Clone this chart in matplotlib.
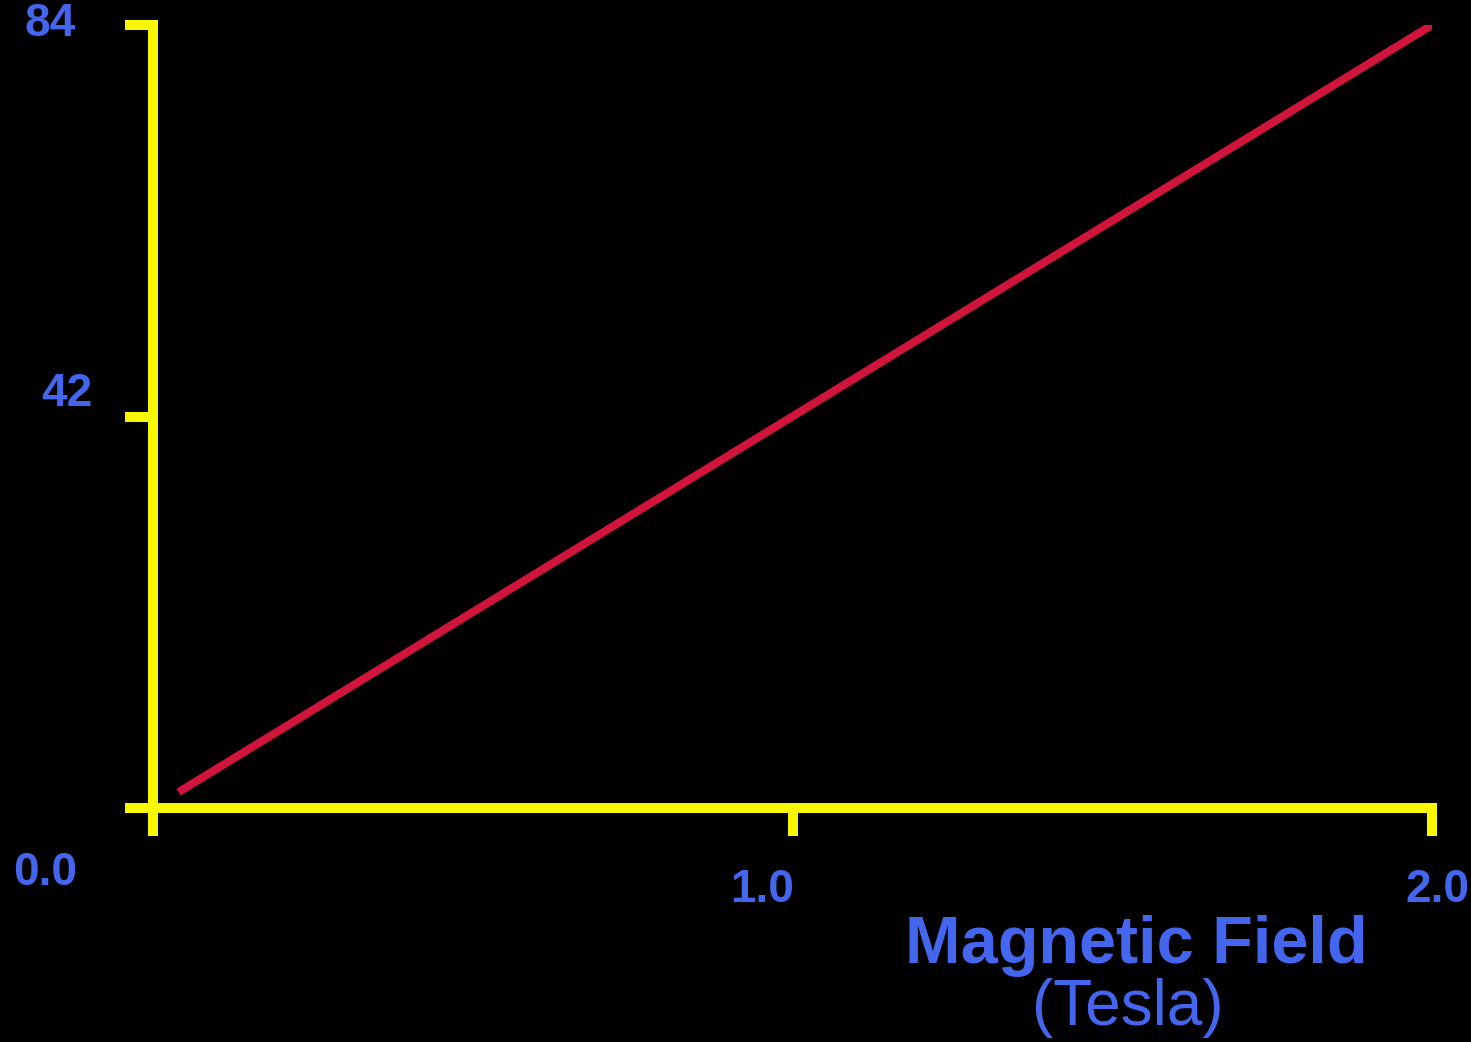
import matplotlib
matplotlib.use("Agg")
import matplotlib.pyplot as plt

plt.rcParams['font.family'] = ['Liberation Sans', 'DejaVu Sans']

# --- data ---
field = [0.04, 2.0]          # Tesla
freq = [1.7, 84.0]           # MHz
x_ticks = [0.0, 1.0, 2.0]
y_ticks = [0, 42, 84]
x_labels = ['0.0', '1.0', '2.0']
y_labels = ['', '42', '84']

BLUE = '#4466EE'
YELLOW = '#F8F800'
RED = '#D0143C'

fig = plt.figure(figsize=(14.71, 10.42), dpi=100, facecolor='black')
ax = fig.add_axes([153 / 1471, 1 - 808 / 1042, (1432 - 153) / 1471, (808 - 25) / 1042])
ax.set_facecolor('black')

ax.plot(field, freq, color=RED, lw=5.8, solid_capstyle='butt', zorder=3)

ax.set_xlim(0, 2)
ax.set_ylim(0, 84)
for side in ['top', 'right']:
    ax.spines[side].set_visible(False)
for side in ['left', 'bottom']:
    ax.spines[side].set_color(YELLOW)
    ax.spines[side].set_linewidth(7.2)
    ax.spines[side].set_capstyle('projecting')

ax.set_xticks(x_ticks)
ax.set_yticks(y_ticks)
ax.tick_params(axis='both', direction='out', length=20, width=7.2,
               color=YELLOW, labelbottom=False, labelleft=False)

# tick labels placed by hand, offset from the tick positions (pixels)
lab = dict(color=BLUE, fontsize=33, fontweight='bold', ha='center', va='center',
           textcoords='offset pixels')
ax.annotate(y_labels[2], (0, y_ticks[2]), xytext=(-103, 1), **lab)
ax.annotate(y_labels[1], (0, y_ticks[1]), xytext=(-86, 23), **lab)
ax.annotate(x_labels[0], (x_ticks[0], 0), xytext=(-108, -65), **lab)
ax.annotate(x_labels[1], (x_ticks[1], 0), xytext=(-30, -82), **lab)
ax.annotate(x_labels[2], (x_ticks[2], 0), xytext=(5, -82), **lab,
            annotation_clip=False)

fig.text(1136 / 1471, 1 - 946 / 1042, 'Magnetic Field', color=BLUE,
         fontsize=48, fontweight='bold', ha='center', va='center')
fig.text(1128 / 1471, 1 - 1008 / 1042, '(Tesla)', color=BLUE,
         fontsize=46, ha='center', va='center')

fig.savefig('out.png', dpi=100, facecolor='black')
